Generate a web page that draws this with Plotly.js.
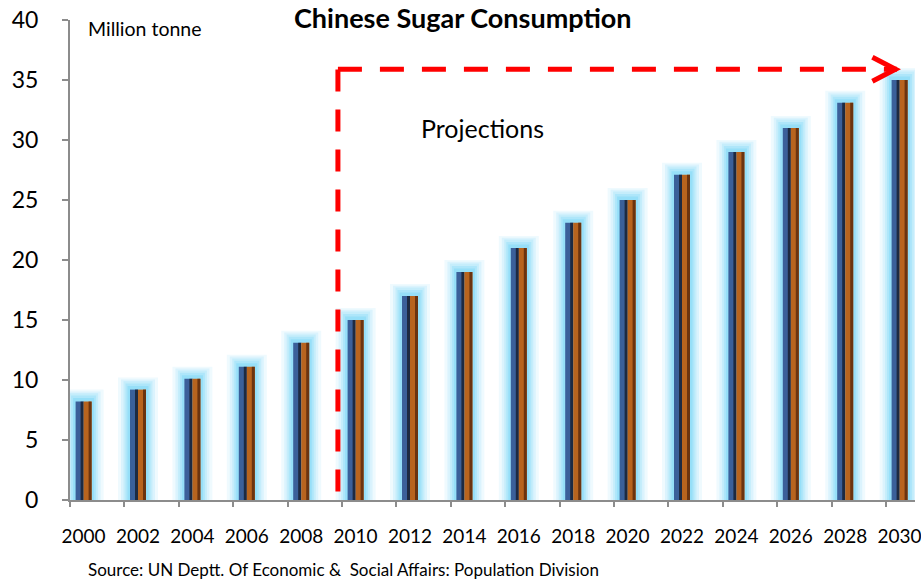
<!DOCTYPE html>
<html><head><meta charset="utf-8">
<script src="https://cdn.plot.ly/plotly-3.0.1.min.js"></script>
<style>html,body{margin:0;padding:0;background:#fff}#chart{width:921px;height:580px}</style>
</head><body><div id="chart"></div>
<script>
// ---- data ----
const years = [2000,2002,2004,2006,2008,2010,2012,2014,2016,2018,2020,2022,2024,2026,2028,2030];
const consumption = [8.2,9.2,10.1,11.1,13.1,15.0,17.0,19.0,21.0,23.1,25.0,27.1,29.0,31.0,33.1,35.0];
const yTicks = [0,5,10,15,20,25,30,35,40];
const titleText = "Chinese Sugar Consumption";
const unitText = "Million tonne";
const projText = "Projections";
const sourceText = "Source: UN Deptt. Of Economic &  Social Affairs: Population Division";

// ---- geometry helpers ----
const PX_PER_YEAR = 27.2;
const px = p => p / PX_PER_YEAR;
const xRange = [1999.5, 1999.5 + 845 / PX_PER_YEAR];
const FONT = "Lato, 'Open Sans', sans-serif";

const traces = [];
// glow layers (behind)
const glow = [[40,1.0,0.10],[34,0.85,0.14],[29,0.7,0.18],[25,0.5,0.24],[21,0.3,0.32]];
glow.forEach(([w,extra,op]) => {
  traces.push({type:'bar', x:years, y:consumption.map(v=>v+extra), width:px(w), offset:-px(w/2),
    marker:{color:`rgba(100,208,245,${op})`, line:{width:0}}, hoverinfo:'skip', xaxis:'x', yaxis:'y'});
});
// bar core
const core = [[-8,8,'#3b609a'],[-3,3,'#1d2a42'],[0,8,'#b8641e'],[5,3,'#6b3410']];
core.forEach(([o,w,c]) => {
  traces.push({type:'bar', x:years, y:consumption, width:px(w), offset:px(o),
    marker:{color:c, line:{width:0}}, hoverinfo:'skip', xaxis:'x', yaxis:'y'});
});
// dummy trace for the tick-mark axis
traces.push({type:'scatter', x:[xRange[0]], y:[0], mode:'markers', marker:{opacity:0}, xaxis:'x2', yaxis:'y', hoverinfo:'skip', showlegend:false});

const tickMarks = years.map(y => y - 0.5);

const red = '#ff0000';
const layout = {
  width:921, height:580,
  margin:{l:70, r:6, t:20, b:80},
  paper_bgcolor:'#fff', plot_bgcolor:'#fff',
  barmode:'overlay', showlegend:false, hovermode:false,
  font:{family:FONT, color:'#000'},
  xaxis:{range:xRange, tickvals:years, ticktext:years.map(String), ticks:'', showgrid:false, zeroline:false,
    showline:true, linecolor:'#8c8c8c', linewidth:2, tickfont:{size:19, family:FONT}, ticklabelstandoff:18,
    ticklabeloverflow:'allow'},
  xaxis2:{range:xRange, overlaying:'x', side:'bottom', tickvals:tickMarks, ticks:'outside', ticklen:6, tickwidth:2,
    tickcolor:'#8c8c8c', showticklabels:false, showgrid:false, zeroline:false, showline:false},
  yaxis:{range:[0,40], tickvals:yTicks, ticks:'outside', ticklen:6, tickwidth:2, tickcolor:'#8c8c8c',
    showline:true, linecolor:'#8c8c8c', linewidth:2, showgrid:false, zeroline:false,
    tickfont:{size:23, family:FONT}, ticklabelstandoff:19, ticklabeloverflow:'allow'},
  shapes:[
    {type:'line', xref:'x', yref:'y', x0:2009.35, x1:2009.35, y0:0.7, y1:35.9, line:{color:red, width:5, dash:'22px,18px'}},
    {type:'line', xref:'x', yref:'y', x0:2009.35, x1:2029.9, y0:35.9, y1:35.9, line:{color:red, width:5, dash:'24px,18px'}},
    {type:'path', xref:'x', yref:'y', path:'M 2029.0 36.9 L 2029.85 35.9 L 2029.0 34.9', line:{color:red, width:5}}
  ],
  annotations:[
    {text:'<b>'+titleText+'</b>', xref:'paper', yref:'paper', x:0.465, y:1.0, xanchor:'center', yanchor:'bottom', yshift:-16, showarrow:false, font:{size:27, family:FONT}},
    {text:unitText, xref:'paper', yref:'paper', x:0.019, y:1, xanchor:'left', yanchor:'top', yshift:5, showarrow:false, font:{size:19.5, family:FONT}},
    {text:projText, xref:'x', yref:'y', x:2014.65, y:31.0, xanchor:'center', yanchor:'middle', showarrow:false, font:{size:25, family:FONT}},
    {text:sourceText, xref:'paper', yref:'paper', x:0.019, y:0, xanchor:'left', yanchor:'top', yshift:-57, showarrow:false, font:{size:17, family:FONT}}
  ]
};
Plotly.newPlot('chart', traces, layout, {displayModeBar:false, staticPlot:true});
</script></body></html>
